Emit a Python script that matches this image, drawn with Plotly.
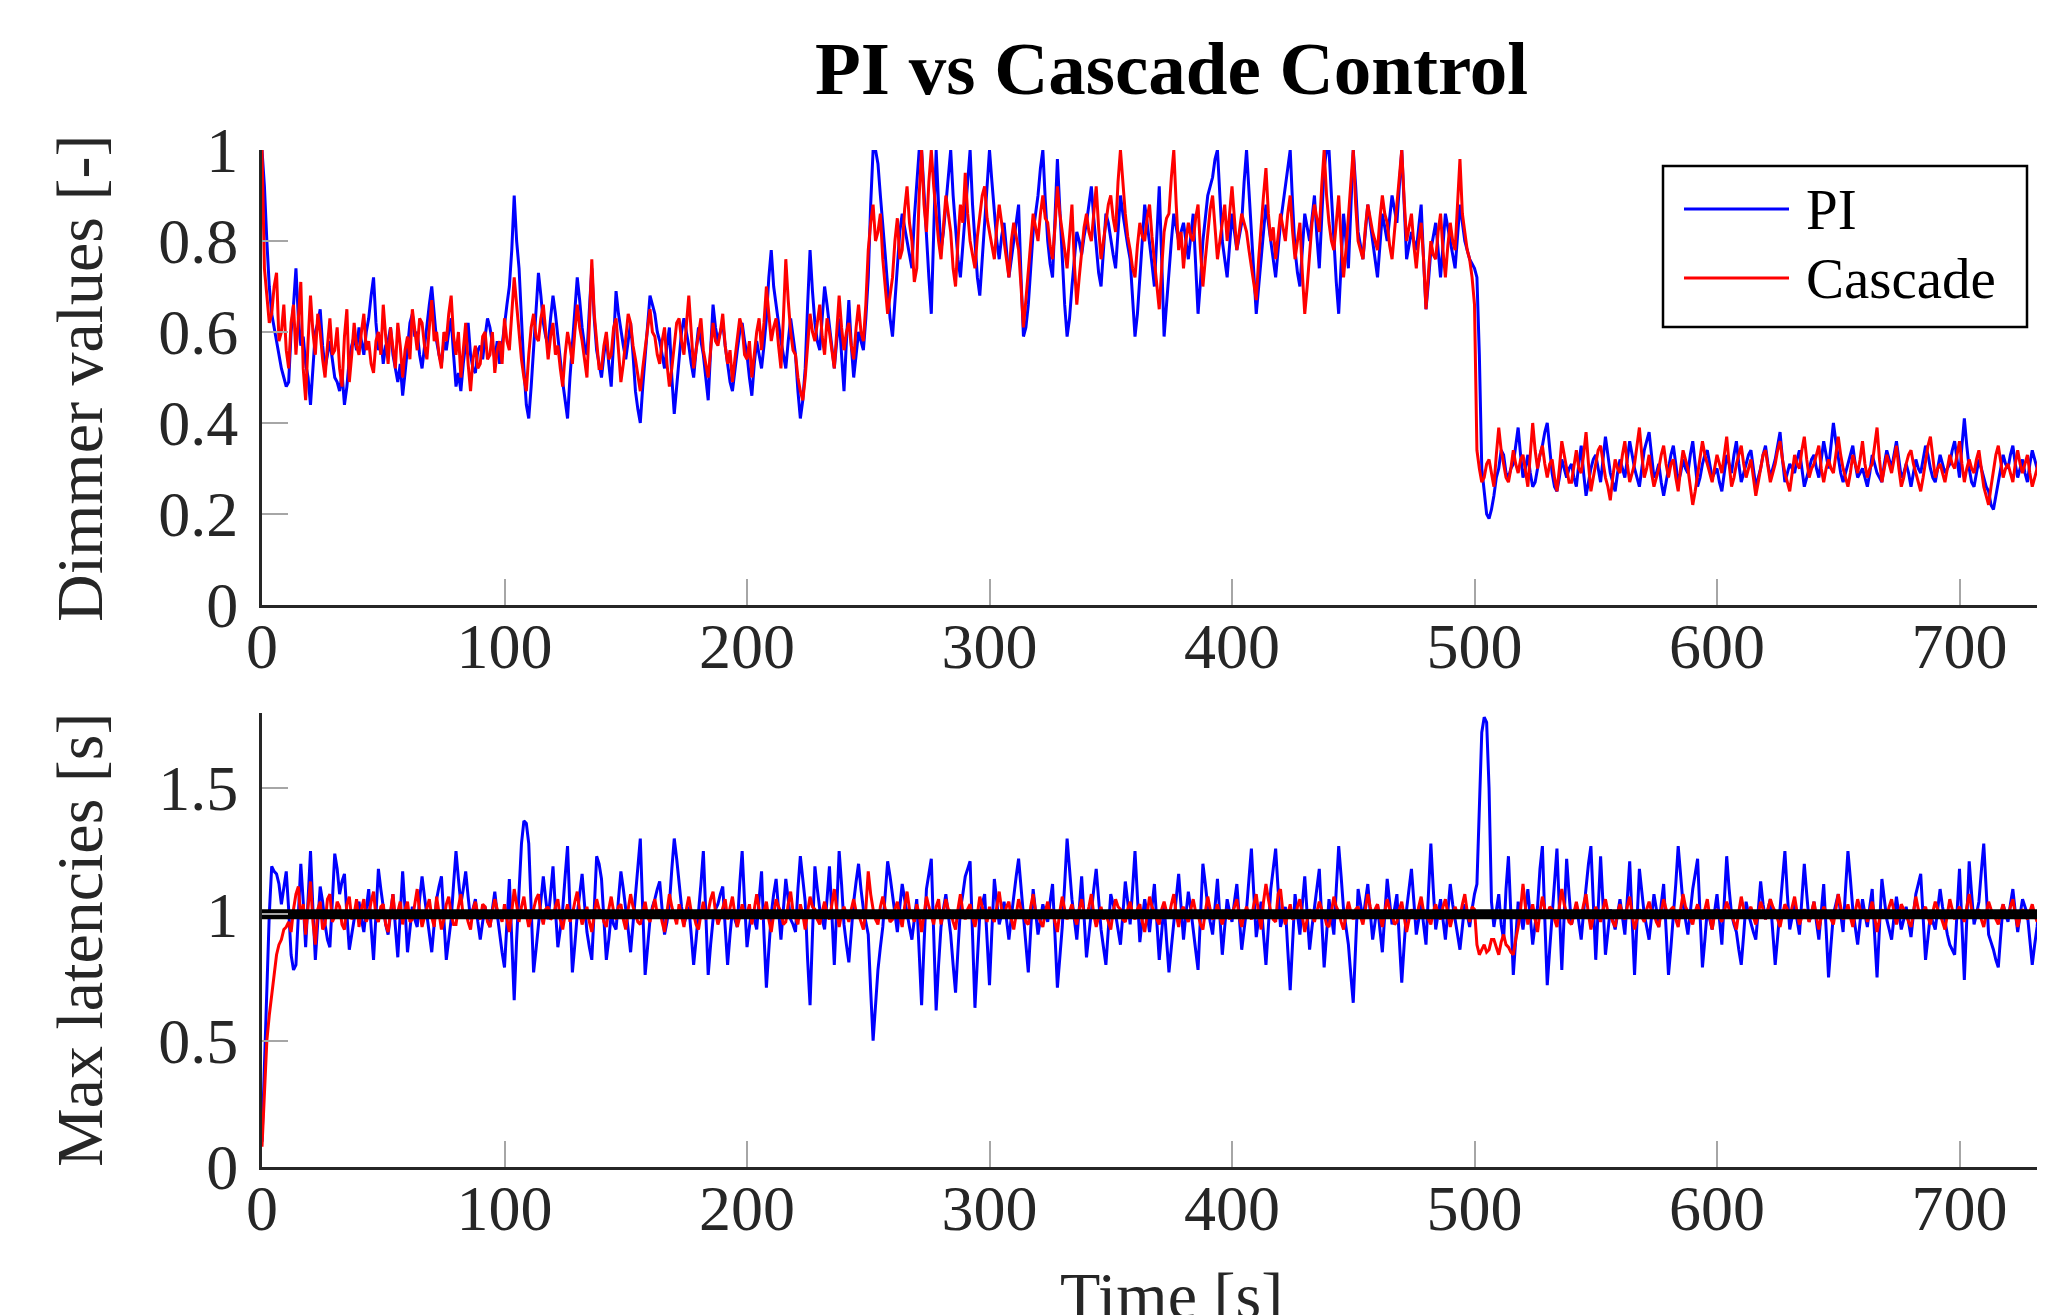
import plotly.graph_objects as go

# ---------------- data (one sample per second, t = 0 .. 740 s) ----------------
sample_step_s = 1

pi_dimmer = [
    1.00, 0.92, 0.80, 0.70, 0.64, 0.61, 0.58, 0.55, 0.52, 0.50, 0.48, 0.49, 0.60, 0.66, 0.74, 0.63, 0.57, 0.59, 0.53, 0.50,
    0.44, 0.52, 0.60, 0.62, 0.65, 0.57, 0.52, 0.55, 0.58, 0.54, 0.50, 0.49, 0.47, 0.51, 0.44, 0.48, 0.54, 0.57, 0.59, 0.56,
    0.61, 0.58, 0.55, 0.60, 0.63, 0.68, 0.72, 0.62, 0.56, 0.59, 0.53, 0.57, 0.58, 0.61, 0.55, 0.52, 0.49, 0.53, 0.46, 0.51,
    0.57, 0.62, 0.64, 0.59, 0.60, 0.55, 0.52, 0.57, 0.61, 0.66, 0.70, 0.64, 0.58, 0.55, 0.53, 0.58, 0.56, 0.60, 0.63, 0.55,
    0.48, 0.51, 0.47, 0.53, 0.58, 0.62, 0.55, 0.52, 0.51, 0.56, 0.57, 0.54, 0.59, 0.63, 0.61, 0.57, 0.54, 0.58, 0.53, 0.57,
    0.62, 0.66, 0.70, 0.78, 0.90, 0.80, 0.74, 0.62, 0.52, 0.44, 0.41, 0.48, 0.56, 0.66, 0.73, 0.68, 0.62, 0.59, 0.57, 0.63,
    0.68, 0.64, 0.59, 0.53, 0.49, 0.45, 0.41, 0.50, 0.58, 0.66, 0.72, 0.67, 0.61, 0.57, 0.55, 0.65, 0.74, 0.63, 0.56, 0.53,
    0.50, 0.55, 0.59, 0.53, 0.48, 0.58, 0.69, 0.64, 0.60, 0.57, 0.54, 0.58, 0.62, 0.55, 0.47, 0.43, 0.40, 0.48, 0.55, 0.62,
    0.68, 0.66, 0.64, 0.60, 0.58, 0.55, 0.52, 0.57, 0.61, 0.50, 0.42, 0.48, 0.55, 0.60, 0.63, 0.60, 0.57, 0.53, 0.50, 0.56,
    0.61, 0.58, 0.55, 0.50, 0.45, 0.56, 0.66, 0.61, 0.58, 0.60, 0.62, 0.57, 0.53, 0.49, 0.47, 0.52, 0.56, 0.60, 0.62, 0.58,
    0.55, 0.50, 0.46, 0.53, 0.58, 0.55, 0.52, 0.57, 0.63, 0.72, 0.78, 0.70, 0.66, 0.61, 0.58, 0.55, 0.52, 0.58, 0.63, 0.59,
    0.55, 0.47, 0.41, 0.45, 0.52, 0.66, 0.78, 0.69, 0.62, 0.58, 0.56, 0.63, 0.70, 0.66, 0.61, 0.56, 0.52, 0.58, 0.63, 0.55,
    0.47, 0.58, 0.67, 0.57, 0.50, 0.55, 0.60, 0.58, 0.56, 0.63, 0.72, 0.88, 1.00, 1.00, 0.97, 0.90, 0.84, 0.77, 0.70, 0.63,
    0.59, 0.66, 0.75, 0.82, 0.86, 0.83, 0.80, 0.77, 0.74, 0.85, 0.92, 1.00, 1.00, 0.90, 0.82, 0.72, 0.64, 0.83, 1.00, 0.88,
    0.78, 0.82, 0.88, 0.95, 1.00, 0.90, 0.82, 0.76, 0.72, 0.79, 0.86, 0.94, 1.00, 0.88, 0.79, 0.72, 0.68, 0.76, 0.85, 0.94,
    1.00, 0.93, 0.86, 0.80, 0.76, 0.81, 0.84, 0.78, 0.72, 0.76, 0.80, 0.85, 0.88, 0.72, 0.59, 0.61, 0.66, 0.74, 0.82, 0.86,
    0.90, 0.96, 1.00, 0.89, 0.80, 0.75, 0.72, 0.85, 0.98, 0.87, 0.76, 0.66, 0.59, 0.63, 0.70, 0.77, 0.82, 0.80, 0.77, 0.81,
    0.84, 0.88, 0.92, 0.85, 0.78, 0.73, 0.70, 0.78, 0.86, 0.84, 0.80, 0.77, 0.74, 0.82, 0.90, 0.86, 0.82, 0.79, 0.76, 0.67,
    0.59, 0.64, 0.72, 0.80, 0.88, 0.84, 0.80, 0.75, 0.70, 0.81, 0.92, 0.76, 0.59, 0.66, 0.74, 0.80, 0.86, 0.83, 0.80, 0.82,
    0.84, 0.80, 0.76, 0.81, 0.86, 0.75, 0.64, 0.71, 0.80, 0.85, 0.90, 0.92, 0.94, 0.98, 1.00, 0.90, 0.80, 0.76, 0.72, 0.79,
    0.86, 0.82, 0.78, 0.81, 0.84, 0.93, 1.00, 0.91, 0.82, 0.72, 0.64, 0.70, 0.76, 0.83, 0.88, 0.84, 0.80, 0.76, 0.72, 0.78,
    0.84, 0.88, 0.92, 0.97, 1.00, 0.88, 0.78, 0.73, 0.70, 0.78, 0.86, 0.83, 0.80, 0.85, 0.90, 0.81, 0.74, 0.85, 0.96, 1.00,
    1.00, 0.90, 0.80, 0.71, 0.64, 0.75, 0.86, 0.80, 0.74, 0.87, 1.00, 0.92, 0.82, 0.79, 0.76, 0.82, 0.88, 0.84, 0.80, 0.76,
    0.72, 0.79, 0.86, 0.83, 0.80, 0.85, 0.90, 0.87, 0.84, 0.92, 1.00, 0.88, 0.76, 0.79, 0.82, 0.80, 0.78, 0.83, 0.88, 0.76,
    0.65, 0.71, 0.78, 0.81, 0.84, 0.78, 0.72, 0.79, 0.86, 0.83, 0.80, 0.77, 0.74, 0.81, 0.88, 0.84, 0.80, 0.78, 0.76, 0.75,
    0.74, 0.72, 0.55, 0.30, 0.25, 0.20, 0.19, 0.21, 0.24, 0.28, 0.30, 0.34, 0.33, 0.29, 0.28, 0.30, 0.31, 0.35, 0.39, 0.33,
    0.28, 0.30, 0.33, 0.29, 0.26, 0.27, 0.30, 0.33, 0.35, 0.38, 0.40, 0.34, 0.29, 0.26, 0.25, 0.28, 0.32, 0.30, 0.28, 0.30,
    0.31, 0.28, 0.26, 0.31, 0.35, 0.29, 0.24, 0.27, 0.30, 0.32, 0.33, 0.30, 0.27, 0.32, 0.37, 0.33, 0.29, 0.27, 0.25, 0.29,
    0.32, 0.30, 0.28, 0.32, 0.36, 0.33, 0.30, 0.28, 0.26, 0.30, 0.34, 0.36, 0.38, 0.33, 0.28, 0.29, 0.31, 0.27, 0.24, 0.27,
    0.30, 0.33, 0.35, 0.31, 0.27, 0.29, 0.32, 0.30, 0.29, 0.33, 0.36, 0.31, 0.26, 0.28, 0.31, 0.33, 0.34, 0.31, 0.28, 0.29,
    0.30, 0.27, 0.25, 0.29, 0.33, 0.31, 0.29, 0.33, 0.36, 0.31, 0.27, 0.29, 0.31, 0.33, 0.34, 0.30, 0.26, 0.28, 0.30, 0.33,
    0.35, 0.31, 0.28, 0.30, 0.32, 0.35, 0.38, 0.32, 0.27, 0.29, 0.31, 0.30, 0.29, 0.32, 0.34, 0.30, 0.26, 0.28, 0.30, 0.32,
    0.33, 0.30, 0.28, 0.32, 0.36, 0.33, 0.30, 0.35, 0.40, 0.36, 0.32, 0.29, 0.27, 0.29, 0.31, 0.33, 0.35, 0.31, 0.28, 0.29,
    0.30, 0.28, 0.26, 0.29, 0.33, 0.31, 0.29, 0.28, 0.27, 0.31, 0.34, 0.32, 0.30, 0.33, 0.36, 0.32, 0.28, 0.29, 0.31, 0.29,
    0.26, 0.29, 0.32, 0.30, 0.29, 0.32, 0.35, 0.33, 0.30, 0.28, 0.27, 0.30, 0.33, 0.31, 0.29, 0.30, 0.31, 0.34, 0.36, 0.32,
    0.28, 0.35, 0.41, 0.35, 0.30, 0.27, 0.26, 0.29, 0.32, 0.30, 0.28, 0.26, 0.25, 0.22, 0.21, 0.24, 0.27, 0.30, 0.33, 0.31,
    0.30, 0.33, 0.35, 0.31, 0.28, 0.30, 0.32, 0.29, 0.27, 0.31, 0.34, 0.32, 0.30, 0.28, 0.26, 0.29, 0.31, 0.30, 0.29, 0.31,
    0.30,
]

cascade_dimmer = [
    1.00, 0.74, 0.68, 0.62, 0.64, 0.70, 0.73, 0.58, 0.60, 0.66, 0.56, 0.52, 0.62, 0.66, 0.55, 0.64, 0.71, 0.52, 0.45, 0.58,
    0.68, 0.60, 0.55, 0.64, 0.60, 0.54, 0.50, 0.57, 0.63, 0.55, 0.56, 0.61, 0.52, 0.48, 0.59, 0.65, 0.49, 0.55, 0.62, 0.57,
    0.55, 0.60, 0.64, 0.56, 0.58, 0.53, 0.51, 0.58, 0.60, 0.55, 0.66, 0.59, 0.53, 0.61, 0.57, 0.52, 0.62, 0.57, 0.50, 0.56,
    0.59, 0.54, 0.65, 0.60, 0.56, 0.63, 0.62, 0.57, 0.54, 0.61, 0.67, 0.58, 0.60, 0.55, 0.52, 0.60, 0.58, 0.64, 0.68, 0.59,
    0.55, 0.60, 0.50, 0.56, 0.62, 0.53, 0.47, 0.54, 0.57, 0.52, 0.53, 0.59, 0.60, 0.54, 0.55, 0.60, 0.51, 0.56, 0.58, 0.53,
    0.63, 0.58, 0.56, 0.64, 0.72, 0.66, 0.60, 0.54, 0.50, 0.47, 0.55, 0.61, 0.64, 0.59, 0.58, 0.63, 0.66, 0.60, 0.54, 0.59,
    0.62, 0.55, 0.57, 0.52, 0.48, 0.55, 0.60, 0.57, 0.53, 0.60, 0.66, 0.61, 0.58, 0.54, 0.50, 0.62, 0.76, 0.64, 0.57, 0.52,
    0.52, 0.57, 0.60, 0.54, 0.55, 0.61, 0.63, 0.56, 0.49, 0.53, 0.58, 0.64, 0.62, 0.57, 0.54, 0.50, 0.47, 0.52, 0.56, 0.61,
    0.65, 0.60, 0.59, 0.55, 0.53, 0.58, 0.61, 0.53, 0.48, 0.52, 0.57, 0.62, 0.63, 0.58, 0.55, 0.62, 0.68, 0.60, 0.52, 0.56,
    0.60, 0.63, 0.56, 0.53, 0.50, 0.56, 0.62, 0.58, 0.57, 0.60, 0.64, 0.57, 0.53, 0.56, 0.49, 0.54, 0.58, 0.63, 0.61, 0.55,
    0.54, 0.58, 0.50, 0.55, 0.60, 0.63, 0.56, 0.62, 0.70, 0.64, 0.58, 0.61, 0.63, 0.57, 0.52, 0.63, 0.76, 0.67, 0.60, 0.56,
    0.55, 0.50, 0.47, 0.45, 0.50, 0.57, 0.64, 0.60, 0.58, 0.62, 0.66, 0.59, 0.55, 0.63, 0.60, 0.56, 0.52, 0.60, 0.68, 0.61,
    0.56, 0.60, 0.62, 0.57, 0.54, 0.61, 0.66, 0.60, 0.58, 0.66, 0.78, 0.84, 0.88, 0.80, 0.82, 0.86, 0.76, 0.70, 0.64, 0.68,
    0.72, 0.80, 0.85, 0.76, 0.78, 0.87, 0.92, 0.84, 0.80, 0.71, 0.74, 0.90, 1.00, 0.88, 0.82, 0.93, 1.00, 0.92, 0.86, 0.80,
    0.76, 0.84, 0.90, 0.86, 0.82, 0.74, 0.70, 0.80, 0.88, 0.84, 0.95, 0.86, 0.80, 0.77, 0.74, 0.81, 0.86, 0.90, 0.92, 0.85,
    0.82, 0.79, 0.76, 0.83, 0.88, 0.84, 0.80, 0.76, 0.72, 0.80, 0.84, 0.81, 0.78, 0.70, 0.61, 0.67, 0.74, 0.81, 0.86, 0.83,
    0.80, 0.86, 0.90, 0.85, 0.84, 0.79, 0.76, 0.83, 0.92, 0.86, 0.82, 0.78, 0.74, 0.81, 0.88, 0.75, 0.66, 0.72, 0.78, 0.83,
    0.86, 0.82, 0.80, 0.86, 0.92, 0.83, 0.76, 0.80, 0.84, 0.88, 0.90, 0.85, 0.82, 0.93, 1.00, 0.92, 0.86, 0.81, 0.78, 0.74,
    0.72, 0.79, 0.84, 0.81, 0.80, 0.85, 0.88, 0.81, 0.76, 0.70, 0.65, 0.74, 0.82, 0.85, 0.86, 0.94, 1.00, 0.88, 0.78, 0.82,
    0.74, 0.80, 0.84, 0.81, 0.80, 0.85, 0.88, 0.78, 0.70, 0.76, 0.82, 0.87, 0.90, 0.82, 0.76, 0.80, 0.84, 0.88, 0.80, 0.86,
    0.92, 0.85, 0.78, 0.82, 0.86, 0.84, 0.82, 0.78, 0.74, 0.70, 0.67, 0.76, 0.84, 0.90, 0.96, 0.86, 0.80, 0.83, 0.76, 0.81,
    0.86, 0.83, 0.80, 0.86, 0.90, 0.82, 0.76, 0.80, 0.84, 0.73, 0.64, 0.70, 0.78, 0.84, 0.88, 0.85, 0.82, 0.92, 1.00, 0.90,
    0.84, 0.80, 0.78, 0.84, 0.90, 0.80, 0.72, 0.78, 0.86, 0.94, 1.00, 0.88, 0.80, 0.78, 0.76, 0.83, 0.88, 0.85, 0.82, 0.80,
    0.78, 0.85, 0.90, 0.86, 0.84, 0.79, 0.76, 0.82, 0.88, 0.95, 1.00, 0.89, 0.80, 0.83, 0.86, 0.79, 0.74, 0.80, 0.84, 0.76,
    0.65, 0.73, 0.80, 0.77, 0.76, 0.82, 0.86, 0.78, 0.72, 0.79, 0.84, 0.80, 0.78, 0.88, 0.98, 0.86, 0.82, 0.78, 0.76, 0.72,
    0.66, 0.34, 0.30, 0.27, 0.28, 0.31, 0.32, 0.29, 0.26, 0.33, 0.39, 0.34, 0.31, 0.28, 0.27, 0.30, 0.34, 0.31, 0.29, 0.32,
    0.33, 0.29, 0.26, 0.33, 0.40, 0.34, 0.30, 0.33, 0.35, 0.31, 0.28, 0.31, 0.32, 0.28, 0.25, 0.30, 0.36, 0.33, 0.30, 0.27,
    0.27, 0.31, 0.34, 0.30, 0.29, 0.33, 0.38, 0.31, 0.25, 0.28, 0.31, 0.34, 0.35, 0.31, 0.28, 0.26, 0.23, 0.28, 0.32, 0.30,
    0.29, 0.33, 0.36, 0.31, 0.27, 0.29, 0.31, 0.35, 0.39, 0.33, 0.28, 0.30, 0.33, 0.29, 0.26, 0.28, 0.30, 0.33, 0.35, 0.31,
    0.28, 0.31, 0.32, 0.28, 0.25, 0.30, 0.34, 0.32, 0.30, 0.26, 0.22, 0.25, 0.29, 0.33, 0.36, 0.33, 0.31, 0.29, 0.27, 0.30,
    0.33, 0.31, 0.29, 0.33, 0.37, 0.31, 0.26, 0.28, 0.31, 0.33, 0.35, 0.31, 0.28, 0.30, 0.32, 0.28, 0.24, 0.27, 0.30, 0.33,
    0.34, 0.30, 0.27, 0.29, 0.31, 0.34, 0.36, 0.32, 0.29, 0.27, 0.25, 0.29, 0.33, 0.31, 0.30, 0.34, 0.37, 0.32, 0.28, 0.30,
    0.31, 0.33, 0.35, 0.30, 0.27, 0.30, 0.32, 0.30, 0.29, 0.33, 0.37, 0.33, 0.30, 0.28, 0.26, 0.29, 0.33, 0.31, 0.29, 0.32,
    0.36, 0.31, 0.28, 0.30, 0.31, 0.35, 0.39, 0.32, 0.27, 0.30, 0.33, 0.31, 0.29, 0.32, 0.35, 0.30, 0.26, 0.28, 0.31, 0.33,
    0.34, 0.31, 0.29, 0.27, 0.25, 0.28, 0.32, 0.35, 0.37, 0.32, 0.28, 0.30, 0.31, 0.29, 0.27, 0.30, 0.33, 0.31, 0.30, 0.33,
    0.36, 0.31, 0.27, 0.30, 0.32, 0.30, 0.29, 0.32, 0.34, 0.30, 0.26, 0.24, 0.22, 0.26, 0.30, 0.33, 0.35, 0.31, 0.28, 0.30,
    0.31, 0.29, 0.27, 0.31, 0.34, 0.31, 0.29, 0.31, 0.33, 0.29, 0.26, 0.28, 0.30, 0.33, 0.35, 0.31, 0.28, 0.30, 0.31, 0.28,
    0.29,
]

pi_latency = [
    0.10, 0.40, 0.72, 1.00, 1.19, 1.17, 1.16, 1.12, 1.04, 1.10, 1.17, 1.02, 0.84, 0.78, 0.80, 1.00, 1.20, 1.05, 0.87, 1.06,
    1.25, 1.02, 0.82, 0.97, 1.11, 1.05, 0.96, 0.90, 0.87, 1.05, 1.24, 1.18, 1.08, 1.13, 1.16, 1.00, 0.86, 0.92, 0.98, 1.02,
    1.05, 0.98, 0.93, 1.02, 1.10, 0.95, 0.82, 1.00, 1.18, 1.10, 1.02, 0.96, 0.92, 1.00, 1.08, 0.95, 0.83, 1.00, 1.17, 1.02,
    0.85, 0.94, 1.03, 0.98, 0.95, 1.06, 1.15, 1.07, 1.00, 0.92, 0.85, 0.96, 1.06, 1.11, 1.15, 0.98, 0.82, 0.90, 0.98, 1.12,
    1.25, 1.14, 1.04, 1.10, 1.17, 1.07, 0.98, 1.02, 1.06, 0.97, 0.90, 0.97, 1.03, 0.98, 0.95, 1.02, 1.09, 1.00, 0.92, 0.85,
    0.79, 0.98, 1.14, 0.90, 0.66, 0.90, 1.12, 1.28, 1.37, 1.36, 1.28, 1.00, 0.77, 0.86, 0.95, 1.05, 1.15, 1.06, 0.98, 1.08,
    1.19, 1.02, 0.87, 0.94, 1.02, 1.15, 1.27, 1.02, 0.77, 0.88, 1.00, 1.08, 1.16, 1.04, 0.93, 0.87, 0.82, 1.02, 1.23, 1.20,
    1.14, 0.98, 0.82, 0.90, 1.00, 0.96, 0.94, 1.06, 1.17, 1.10, 1.03, 0.94, 0.85, 0.96, 1.08, 1.20, 1.30, 1.02, 0.76, 0.87,
    0.98, 1.03, 1.06, 1.10, 1.13, 1.02, 0.92, 0.97, 1.04, 1.18, 1.30, 1.22, 1.11, 1.03, 0.96, 1.00, 1.03, 0.92, 0.80, 0.90,
    1.00, 1.12, 1.25, 1.00, 0.76, 0.88, 0.98, 1.02, 1.04, 1.08, 1.11, 0.95, 0.80, 0.92, 1.02, 0.98, 0.95, 1.12, 1.25, 1.05,
    0.87, 0.95, 1.02, 0.98, 0.94, 1.06, 1.17, 0.92, 0.71, 0.86, 1.00, 1.08, 1.14, 1.02, 0.90, 1.02, 1.14, 1.06, 0.98, 0.96,
    0.93, 1.10, 1.23, 1.14, 1.05, 0.82, 0.64, 0.92, 1.19, 1.10, 1.02, 0.98, 0.94, 1.06, 1.19, 1.00, 0.80, 1.02, 1.25, 1.12,
    0.96, 0.88, 0.81, 0.93, 1.05, 1.13, 1.20, 1.10, 1.02, 0.97, 0.92, 0.70, 0.50, 0.64, 0.78, 0.87, 0.95, 1.08, 1.21, 1.15,
    1.08, 1.00, 0.93, 1.03, 1.12, 1.06, 1.00, 0.95, 0.90, 0.98, 1.06, 0.85, 0.64, 0.88, 1.10, 1.16, 1.22, 0.92, 0.62, 0.80,
    0.95, 1.02, 1.08, 1.00, 0.92, 0.80, 0.69, 0.86, 1.02, 1.08, 1.15, 1.18, 1.21, 0.92, 0.63, 0.82, 1.00, 1.04, 1.08, 0.90,
    0.72, 0.94, 1.14, 1.05, 0.96, 1.00, 1.05, 0.98, 0.90, 0.99, 1.08, 1.15, 1.22, 1.10, 0.98, 0.88, 0.77, 0.94, 1.10, 1.01,
    0.92, 0.98, 1.04, 1.00, 0.97, 1.05, 1.12, 0.92, 0.71, 0.83, 0.95, 1.12, 1.30, 1.18, 1.06, 0.98, 0.90, 1.02, 1.15, 0.99,
    0.83, 0.92, 1.02, 1.10, 1.18, 1.06, 0.94, 0.87, 0.80, 0.94, 1.08, 1.04, 1.00, 0.94, 0.88, 1.00, 1.13, 1.05, 0.96, 1.10,
    1.25, 1.07, 0.89, 0.98, 1.06, 1.00, 0.93, 1.03, 1.12, 0.97, 0.82, 0.93, 1.04, 0.90, 0.77, 0.87, 0.97, 1.06, 1.16, 1.03,
    0.90, 1.00, 1.09, 1.02, 0.95, 0.86, 0.78, 0.99, 1.20, 1.12, 1.03, 0.97, 0.92, 1.03, 1.14, 0.99, 0.84, 0.95, 1.06, 1.01,
    0.97, 1.05, 1.12, 0.99, 0.86, 0.94, 1.02, 1.14, 1.26, 1.08, 0.91, 0.98, 1.05, 0.92, 0.80, 0.95, 1.10, 1.18, 1.26, 1.10,
    0.95, 0.99, 1.03, 0.86, 0.70, 0.89, 1.08, 1.00, 0.92, 1.04, 1.15, 1.00, 0.86, 0.95, 1.03, 1.10, 1.18, 0.98, 0.79, 0.92,
    1.06, 0.99, 0.92, 1.10, 1.27, 1.15, 1.02, 0.95, 0.88, 0.76, 0.65, 0.88, 1.10, 1.04, 0.98, 1.05, 1.12, 1.01, 0.90, 0.97,
    1.04, 0.94, 0.85, 1.00, 1.14, 1.05, 0.96, 1.02, 1.08, 0.90, 0.73, 0.88, 1.02, 1.10, 1.18, 1.05, 0.92, 0.98, 1.05, 0.96,
    0.88, 1.08, 1.28, 1.10, 0.94, 1.00, 1.06, 0.98, 0.90, 1.01, 1.12, 1.04, 0.97, 0.92, 0.86, 0.95, 1.04, 1.00, 0.95, 1.02,
    1.08, 1.12, 1.45, 1.72, 1.78, 1.76, 1.50, 1.05, 0.95, 1.02, 1.08, 0.96, 0.90, 1.10, 1.23, 1.00, 0.76, 0.90, 1.05, 1.00,
    0.94, 1.02, 1.10, 0.99, 0.88, 0.96, 1.03, 1.18, 1.27, 0.98, 0.72, 0.86, 1.00, 1.15, 1.26, 1.02, 0.78, 1.00, 1.22, 1.08,
    0.96, 1.00, 1.04, 0.97, 0.90, 1.01, 1.12, 1.20, 1.27, 1.05, 0.82, 1.02, 1.23, 1.04, 0.84, 0.93, 1.02, 0.98, 0.94, 1.00,
    1.06, 0.99, 0.92, 1.06, 1.21, 0.98, 0.76, 0.97, 1.18, 1.09, 1.00, 0.95, 0.90, 0.99, 1.08, 1.02, 0.95, 1.04, 1.12, 0.94,
    0.76, 0.87, 0.98, 1.12, 1.27, 1.15, 1.04, 0.98, 0.92, 1.01, 1.10, 1.16, 1.22, 1.00, 0.79, 0.90, 1.02, 0.98, 0.94, 1.01,
    1.08, 0.98, 0.88, 1.05, 1.23, 1.10, 1.00, 0.96, 0.93, 0.86, 0.80, 0.92, 1.05, 1.00, 0.96, 0.93, 0.90, 1.02, 1.13, 1.04,
    0.98, 1.02, 1.06, 0.93, 0.80, 0.91, 1.02, 1.14, 1.25, 1.08, 0.94, 0.99, 1.04, 0.98, 0.92, 1.06, 1.20, 1.08, 0.97, 1.00,
    1.05, 0.97, 0.90, 1.01, 1.12, 0.94, 0.75, 0.88, 1.00, 1.04, 1.08, 1.00, 0.93, 1.10, 1.25, 1.14, 1.02, 0.95, 0.88, 0.97,
    1.06, 1.00, 0.95, 1.03, 1.10, 0.92, 0.75, 0.95, 1.14, 1.06, 0.98, 0.94, 0.90, 0.99, 1.07, 1.00, 0.94, 0.98, 1.03, 0.97,
    0.91, 1.00, 1.08, 1.12, 1.16, 0.99, 0.82, 0.91, 1.00, 0.97, 0.94, 1.02, 1.10, 1.03, 0.97, 0.92, 0.88, 0.86, 0.84, 1.01,
    1.18, 0.96, 0.74, 0.98, 1.21, 1.08, 0.96, 1.00, 1.05, 1.17, 1.28, 1.10, 0.92, 0.89, 0.86, 0.82, 0.79, 0.92, 1.04, 1.00,
    0.97, 1.04, 1.10, 1.01, 0.93, 1.00, 1.06, 1.03, 1.00, 0.90, 0.80, 0.88, 0.95, 1.05, 1.14, 1.08, 1.02, 0.97, 0.92, 0.99,
    1.05,
]

cascade_latency = [
    0.08, 0.30, 0.50, 0.60, 0.68, 0.78, 0.84, 0.88, 0.90, 0.94, 0.95, 0.97, 0.93, 1.02, 1.08, 1.11, 0.98, 1.04, 0.92, 1.03,
    1.13, 0.97, 0.88, 1.02, 1.05, 0.94, 0.96, 1.06, 1.08, 0.97, 0.99, 1.05, 1.03, 0.96, 0.94, 1.04, 1.07, 0.98, 1.00, 1.06,
    0.95, 1.02, 1.06, 0.97, 1.00, 1.05, 1.09, 0.99, 0.97, 1.03, 1.04, 0.96, 0.93, 1.01, 1.08, 0.98, 1.01, 1.05, 0.96, 1.02,
    1.05, 0.97, 0.98, 1.04, 1.10, 1.01, 0.95, 0.99, 1.03, 1.06, 0.99, 0.95, 1.07, 1.01, 0.94, 0.98, 1.04, 1.07, 1.00, 0.96,
    0.96, 1.03, 1.08, 0.99, 1.01, 0.97, 0.94, 1.02, 1.05, 1.00, 0.98, 1.04, 1.03, 0.97, 0.95, 1.01, 1.06, 1.02, 1.00, 0.97,
    1.04, 0.98, 0.93, 1.01, 1.10, 1.04, 0.97, 1.03, 1.07, 1.00, 0.95, 0.99, 1.02, 1.06, 1.08, 1.00, 0.96, 1.02, 1.03, 0.98,
    0.99, 1.03, 1.06, 0.98, 0.94, 1.00, 1.04, 0.97, 1.00, 1.05, 1.09, 1.01, 0.96, 0.99, 1.03, 0.97, 0.93, 1.00, 1.06, 1.02,
    1.01, 0.97, 0.95, 1.02, 1.07, 1.01, 0.98, 1.03, 1.04, 0.98, 0.94, 1.02, 1.08, 1.03, 1.00, 0.97, 0.96, 1.01, 1.05, 0.99,
    0.97, 1.02, 1.06, 1.00, 1.02, 0.97, 0.93, 1.01, 1.08, 1.03, 0.99, 0.96, 1.04, 1.00, 0.95, 1.02, 1.07, 1.01, 1.00, 0.96,
    0.94, 1.00, 1.05, 0.98, 1.01, 1.06, 1.09, 1.01, 0.96, 0.99, 1.03, 1.06, 0.98, 1.02, 1.07, 1.00, 0.95, 0.99, 1.04, 1.00,
    1.00, 1.04, 0.96, 1.02, 1.08, 1.02, 0.98, 1.01, 1.05, 0.98, 0.93, 1.00, 1.06, 1.03, 1.01, 0.96, 0.97, 1.04, 1.09, 1.01,
    0.99, 0.96, 1.04, 1.00, 0.94, 1.01, 1.07, 1.03, 1.02, 0.98, 0.96, 1.01, 1.05, 1.00, 0.98, 1.04, 1.10, 1.02, 0.95, 1.00,
    1.03, 1.00, 0.97, 1.02, 1.06, 1.01, 1.00, 0.97, 0.94, 1.02, 1.17, 1.08, 1.02, 0.98, 0.96, 1.03, 1.07, 1.02, 1.01, 0.97,
    0.98, 1.02, 1.05, 0.99, 0.95, 1.03, 1.09, 1.02, 1.00, 0.97, 1.04, 1.00, 0.93, 1.00, 1.07, 1.03, 0.99, 0.96, 1.03, 1.06,
    0.96, 1.01, 1.06, 1.02, 1.01, 0.97, 0.94, 1.02, 1.08, 1.01, 0.98, 1.02, 1.04, 0.99, 0.95, 1.00, 1.07, 1.03, 1.00, 0.97,
    1.03, 0.99, 0.97, 1.04, 1.09, 1.02, 0.99, 1.03, 1.05, 0.98, 0.94, 1.00, 1.06, 1.02, 1.01, 0.97, 0.96, 1.03, 1.08, 1.01,
    1.00, 0.97, 0.95, 1.01, 1.05, 0.99, 1.02, 0.97, 0.93, 1.01, 1.07, 1.02, 0.98, 1.01, 1.04, 0.99, 0.96, 1.02, 1.06, 1.00,
    0.99, 1.03, 1.08, 1.00, 0.95, 0.99, 1.03, 0.98, 1.00, 0.97, 0.94, 1.01, 1.06, 1.03, 1.02, 0.98, 0.97, 1.02, 1.05, 1.00,
    0.98, 1.02, 1.04, 0.97, 0.93, 1.00, 1.07, 1.03, 1.01, 0.98, 0.96, 1.02, 1.05, 1.01, 0.99, 1.04, 1.08, 1.00, 0.95, 1.01,
    1.03, 0.99, 0.97, 1.02, 1.06, 1.01, 1.00, 0.96, 0.94, 1.01, 1.07, 1.02, 0.98, 1.00, 1.04, 0.99, 0.96, 1.00, 1.02, 0.98,
    1.00, 1.03, 1.06, 0.99, 0.95, 1.00, 1.03, 1.00, 0.98, 1.04, 1.08, 1.00, 0.94, 1.05, 1.12, 1.06, 1.01, 0.98, 0.97, 1.08,
    1.10, 1.01, 0.96, 1.00, 1.04, 0.98, 0.99, 1.03, 1.06, 0.99, 0.93, 0.98, 1.02, 1.00, 0.97, 1.01, 1.05, 1.02, 1.00, 0.96,
    0.95, 1.01, 1.07, 1.03, 1.01, 0.97, 0.94, 1.00, 1.05, 1.01, 0.98, 1.02, 1.03, 0.99, 0.96, 1.02, 1.08, 1.03, 0.99, 1.02,
    1.04, 0.99, 0.95, 1.01, 1.06, 1.02, 1.00, 0.96, 0.97, 1.02, 1.05, 0.99, 0.93, 0.98, 1.02, 1.00, 0.98, 1.03, 1.07, 1.01,
    1.00, 0.98, 0.96, 1.01, 1.04, 1.00, 0.98, 1.03, 1.06, 1.00, 0.95, 0.99, 1.03, 1.00, 0.99, 1.04, 1.08, 1.01, 0.97, 1.03,
    1.02, 0.88, 0.84, 0.86, 0.88, 0.85, 0.86, 0.90, 0.90, 0.87, 0.84, 0.89, 0.92, 0.88, 0.87, 0.85, 0.84, 0.90, 0.95, 1.02,
    1.12, 1.03, 0.96, 1.00, 1.04, 0.98, 0.93, 1.01, 1.07, 1.02, 0.99, 1.03, 1.02, 0.98, 0.95, 1.03, 1.10, 1.04, 1.00, 0.97,
    0.96, 1.01, 1.05, 1.00, 0.99, 1.04, 1.08, 1.00, 0.94, 0.99, 1.03, 1.00, 0.97, 1.02, 1.06, 1.01, 1.00, 0.97, 0.95, 1.01,
    1.04, 1.00, 0.98, 1.03, 1.07, 1.00, 0.94, 0.98, 1.02, 0.99, 0.97, 1.02, 1.05, 1.01, 1.00, 0.97, 0.95, 1.01, 1.06, 1.02,
    0.99, 1.02, 1.03, 0.98, 0.95, 1.02, 1.08, 1.03, 1.01, 0.98, 0.96, 1.01, 1.04, 1.00, 0.98, 1.02, 1.06, 0.99, 0.94, 1.00,
    1.02, 0.99, 0.97, 1.01, 1.05, 1.02, 1.00, 0.97, 0.94, 1.01, 1.07, 1.02, 0.99, 1.01, 1.03, 0.99, 0.96, 1.00, 1.05, 1.02,
    0.98, 1.02, 1.06, 1.03, 1.01, 0.98, 0.95, 1.00, 1.04, 1.02, 0.99, 1.03, 1.07, 1.01, 0.96, 0.99, 1.02, 1.00, 0.97, 1.01,
    1.05, 0.99, 0.94, 0.99, 1.03, 1.01, 1.00, 0.98, 0.96, 1.02, 1.08, 1.03, 0.98, 1.00, 1.04, 0.99, 0.95, 1.01, 1.06, 1.02,
    1.00, 1.02, 0.97, 1.01, 1.05, 0.99, 0.93, 0.98, 1.02, 1.00, 0.99, 1.03, 1.06, 1.01, 0.96, 1.00, 1.04, 1.02, 1.00, 0.97,
    0.95, 1.01, 1.07, 1.02, 0.99, 1.01, 1.03, 0.99, 0.96, 1.01, 1.05, 1.02, 1.00, 0.97, 0.94, 1.00, 1.06, 1.02, 0.98, 1.01,
    1.03, 1.00, 0.97, 1.03, 1.08, 1.02, 0.99, 1.01, 1.02, 0.98, 0.95, 1.00, 1.05, 1.02, 1.00, 0.98, 0.96, 1.01, 1.04, 1.00,
    0.99, 1.03, 1.06, 1.00, 0.95, 0.99, 1.02, 1.00, 0.98, 1.01, 1.04, 1.00, 0.97, 1.01, 1.03, 0.99, 0.96, 1.01, 1.05, 1.02,
    1.00,
]

latency_setpoint = 1.0

x_ticks = [0, 100, 200, 300, 400, 500, 600, 700]
y1_ticks = [0, 0.2, 0.4, 0.6, 0.8, 1]
y1_tick_labels = ["0", "0.2", "0.4", "0.6", "0.8", "1"]
y2_ticks = [0, 0.5, 1, 1.5]
y2_tick_labels = ["0", "0.5", "1", "1.5"]

title_text = "PI vs Cascade Control"
y1_title = "Dimmer values [-]"
y2_title = "Max latencies [s]"
x_title = "Time [s]"
legend_names = ["PI", "Cascade"]


def times(series):
    return [i * sample_step_s for i in range(len(series))]


# ---------------- figure geometry (screen pixels) ----------------
W, H = 2045, 1315
OFF = 8          # the page body margin shifts the figure by this many pixels
FONT = "Liberation Serif"
TXT = "#262626"


def px(x):
    return (x - OFF) / W


def py(y):
    return (H - (y - OFF)) / H


x_left = 262
px_per_s = 242.5 / 100
x_max = (W + OFF - x_left) / px_per_s

# lower panel: y = 0 at 1167 px, y = 1.5 at 788 px, axis top at 713 px
lat_zero_px, lat_one_half_px, lat_top_px = 1167, 788, 713
lat_px_per_unit = (lat_zero_px - lat_one_half_px) / 1.5
lat_ymax = (lat_zero_px - lat_top_px) / lat_px_per_unit

fig = go.Figure()

BLUE = "#0000FF"
RED = "#FF0000"
LW = 3

fig.add_trace(go.Scatter(x=times(pi_dimmer), y=pi_dimmer, mode="lines",
                         line=dict(color=BLUE, width=LW), name=legend_names[0],
                         xaxis="x", yaxis="y", showlegend=False))
fig.add_trace(go.Scatter(x=times(cascade_dimmer), y=cascade_dimmer, mode="lines",
                         line=dict(color=RED, width=LW), name=legend_names[1],
                         xaxis="x", yaxis="y", showlegend=False))
fig.add_trace(go.Scatter(x=times(pi_latency), y=pi_latency, mode="lines",
                         line=dict(color=BLUE, width=LW), name=legend_names[0],
                         xaxis="x2", yaxis="y2", showlegend=False))
fig.add_trace(go.Scatter(x=times(cascade_latency), y=cascade_latency, mode="lines",
                         line=dict(color=RED, width=LW), name=legend_names[1],
                         xaxis="x2", yaxis="y2", showlegend=False))
t_end = times(pi_latency)[-1]
fig.add_trace(go.Scatter(x=[0, t_end], y=[latency_setpoint, latency_setpoint], mode="lines",
                         line=dict(color="black", width=10), name="Setpoint",
                         xaxis="x2", yaxis="y2", showlegend=False))

axis_common = dict(
    showline=True, linecolor=TXT, linewidth=3, mirror=False,
    ticks="inside", ticklen=26, tickwidth=1.5, tickcolor="#a6a6a6",
    showgrid=False, zeroline=False, automargin=False,
    tickfont=dict(family=FONT, size=64, color=TXT),
)

x_domain = [px(x_left), 1.0]
fig.update_layout(
    template="none",
    width=W, height=H,
    margin=dict(l=0, r=0, t=0, b=0, pad=0, autoexpand=False),
    paper_bgcolor="white", plot_bgcolor="white",
    showlegend=False,
    xaxis=dict(domain=x_domain, range=[0, x_max], anchor="y", ticklabelstandoff=-17,
               tickvals=x_ticks, ticktext=[str(v) for v in x_ticks], **axis_common),
    yaxis=dict(domain=[py(605), py(150)], range=[0, 1], anchor="x", ticklabelstandoff=8,
               tickvals=y1_ticks, ticktext=y1_tick_labels, **axis_common),
    xaxis2=dict(domain=x_domain, range=[0, x_max], anchor="y2", ticklabelstandoff=-17,
                tickvals=x_ticks, ticktext=[str(v) for v in x_ticks], **axis_common),
    yaxis2=dict(domain=[py(lat_zero_px), py(lat_top_px)], range=[0, lat_ymax], anchor="x2",
                ticklabelstandoff=8,
                tickvals=y2_ticks, ticktext=y2_tick_labels, **axis_common),
)

annotations = [
    dict(text="<b>" + title_text + "</b>", x=px(1171), y=py(69), xref="paper", yref="paper",
         showarrow=False, xanchor="center", yanchor="middle",
         font=dict(family=FONT, size=75, color="black")),
    dict(text=y1_title, x=px(80), y=py(378), xref="paper", yref="paper", textangle=-90,
         showarrow=False, xanchor="center", yanchor="middle",
         font=dict(family=FONT, size=66, color=TXT)),
    dict(text=y2_title, x=px(80), y=py(940), xref="paper", yref="paper", textangle=-90,
         showarrow=False, xanchor="center", yanchor="middle",
         font=dict(family=FONT, size=66, color=TXT)),
    dict(text=x_title, x=px(1171), y=py(1257), xref="paper", yref="paper",
         showarrow=False, xanchor="center", yanchor="top",
         font=dict(family=FONT, size=66, color=TXT)),
]

# legend drawn by hand
leg_x0, leg_x1, leg_y0, leg_y1 = 1663, 2027, 166, 327
shapes = [
    dict(type="rect", xref="paper", yref="paper",
         x0=px(leg_x0), x1=px(leg_x1), y0=py(leg_y1), y1=py(leg_y0),
         line=dict(color="black", width=2.5), fillcolor="white", layer="above"),
]
for name, color, yy in [(legend_names[0], BLUE, 209), (legend_names[1], RED, 278)]:
    shapes.append(dict(type="line", xref="paper", yref="paper",
                       x0=px(1684), x1=px(1789), y0=py(yy), y1=py(yy),
                       line=dict(color=color, width=LW), layer="above"))
    annotations.append(dict(text=name, x=px(1804), y=py(yy), xref="paper", yref="paper",
                            showarrow=False, xanchor="left", yanchor="middle",
                            font=dict(family=FONT, size=57, color="black")))

fig.update_layout(annotations=annotations, shapes=shapes)

fig.write_html("out.html")
